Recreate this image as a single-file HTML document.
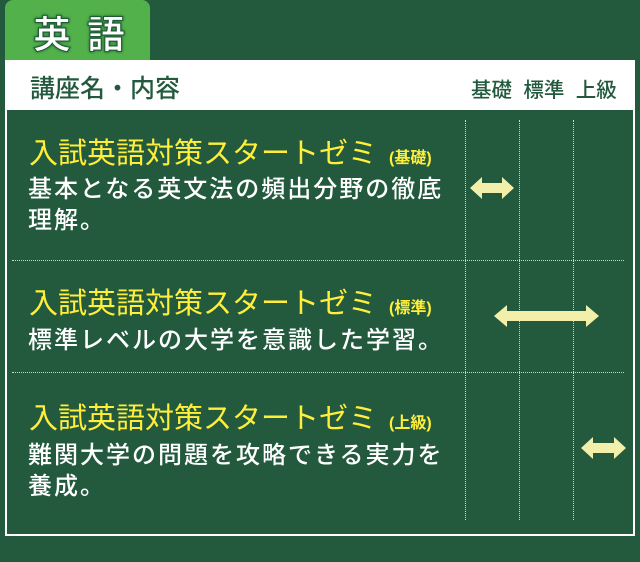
<!DOCTYPE html>
<html><head><meta charset="utf-8"><style>
*{margin:0;padding:0;box-sizing:border-box}
body{width:640px;height:562px;background:#235a3e;position:relative;overflow:hidden;font-family:"Liberation Sans","Noto Sans CJK JP",sans-serif}
.tab{position:absolute;left:5px;top:0;width:145px;height:60px;background:#52b14a;border-radius:8px 8px 0 0}
.tab span{position:absolute;left:28px;top:4px;font-size:38px;font-weight:bold;color:#fff;letter-spacing:16px;-webkit-text-stroke:1px #1d5a35;text-shadow:0 0 3px #1d5a35,0 0 2px #1d5a35}
.hdr{position:absolute;left:5px;top:60px;width:630px;height:50px;background:#fff;color:#235a3e}
.hdr .l{position:absolute;left:25px;top:9px;font-size:25px;font-weight:500}
.hdr .r{position:absolute;left:466px;top:13px;font-size:20.5px;font-weight:500}
.panel{position:absolute;left:5px;top:110px;width:630px;height:426px;border:2px solid #fff;border-top:none}
.vl{position:absolute;top:120px;height:400px;border-left:1px dotted #cfd8d0}
.hl{position:absolute;left:12px;width:612px;border-top:1px dotted #cfd8d0}
.t{position:absolute;left:29px;color:#ffee3a;font-size:29px;white-space:nowrap}
.t small{font-size:16px;margin-left:12px;font-weight:bold}
.d{position:absolute;left:28px;color:#fff;font-size:24px;line-height:31px;letter-spacing:2px;width:420px;font-weight:500}
svg{position:absolute;left:0;top:0}
</style></head><body>
<div class="tab"><span>英語</span></div>
<div class="hdr"><div class="l">講座名・内容</div><div class="r">基礎&nbsp;&nbsp;標準&nbsp;&nbsp;上級</div></div>
<div class="panel"></div>
<div class="vl" style="left:465px"></div>
<div class="vl" style="left:519px"></div>
<div class="vl" style="left:573px"></div>
<div class="hl" style="top:260px"></div>
<div class="hl" style="top:372px"></div>
<div class="t" style="top:130px">入試英語対策スタートゼミ<small>(基礎)</small></div>
<div class="d" style="top:174px">基本となる英文法の頻出分野の徹底理解。</div>
<div class="t" style="top:280px">入試英語対策スタートゼミ<small>(標準)</small></div>
<div class="d" style="top:325px">標準レベルの大学を意識した学習。</div>
<div class="t" style="top:395px">入試英語対策スタートゼミ<small>(上級)</small></div>
<div class="d" style="top:440px">難関大学の問題を攻略できる実力を養成。</div>
<svg width="640" height="562">
<g fill="#f2efaa">
<polygon points="470,188 482,177 482,183 502,183 502,177 514,188 502,199 502,193 482,193 482,199"/>
<polygon points="494,316 507,305 507,311 586,311 586,305 599,316 586,327 586,321 507,321 507,327"/>
<polygon points="581,448 593,437 593,443 614,443 614,437 626,448 614,459 614,453 593,453 593,459"/>
</g></svg>
</body></html>
